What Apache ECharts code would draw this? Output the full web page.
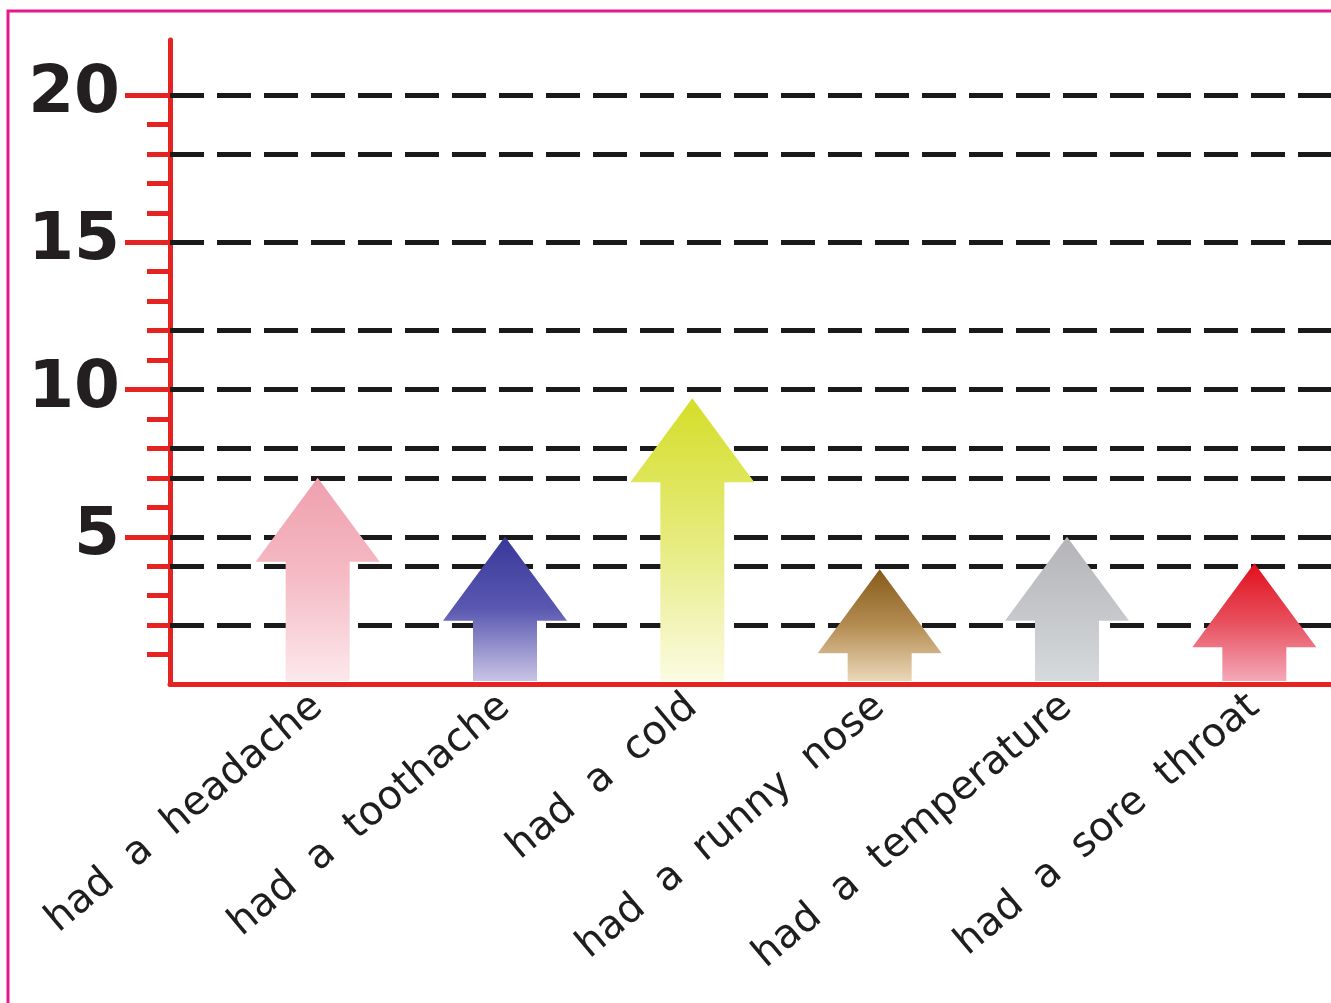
<!DOCTYPE html>
<html>
<head>
<meta charset="utf-8">
<title>had a ... chart</title>
<script src="https://cdn.jsdelivr.net/npm/echarts@6.0.0/dist/echarts.min.js"></script>
<style>
  html, body { margin: 0; padding: 0; background: #fff; }
  #chart { width: 1331px; height: 1003px; }
</style>
</head>
<body>
<div id="chart"></div>
<script>
// data
const categories = ['had a headache', 'had a toothache', 'had a cold', 'had a runny nose', 'had a temperature', 'had a sore throat']
const values = [7, 5, 9.7, 3.9, 5, 4.1]
const majorTicks = [5, 10, 15, 20]
const minorTicks = [1, 2, 3, 4, 6, 7, 8, 9, 11, 12, 13, 14, 16, 17, 18, 19]
const guideLines = [2, 4, 5, 7, 8, 10, 12, 15, 18, 20]

// arrow colours, top -> bottom
const arrowColors = [
  ['#ef9fad', '#f5bcc6', '#fce8ec'],
  ['#38389a', '#5a58b0', '#c8c4e6'],
  ['#d4de28', '#e6eb7c', '#fbfbe2'],
  ['#865a1a', '#b48c52', '#ead8b8'],
  ['#b4b4b8', '#c4c6c9', '#d6dadd'],
  ['#e10f1d', '#e8505e', '#f4a8b8']
]

const red = '#e52421'
const yMax = 21.87

const chart = echarts.init(document.getElementById('chart'))

// arrow drawn from the axis scale
function renderArrow(params, api) {
  const i = api.value(0)
  const tip = api.coord([i, api.value(1)])
  const base = api.coord([i, 0])
  const cx = tip[0]
  const headH = 84
  const headW = 62
  const shaftW = 32
  const neck = tip[1] + headH
  const bottom = base[1] - 3
  const c = arrowColors[params.dataIndex]
  return {
    type: 'polygon',
    shape: {
      points: [
        [cx, tip[1]],
        [cx + headW, neck],
        [cx + shaftW, neck],
        [cx + shaftW, bottom],
        [cx - shaftW, bottom],
        [cx - shaftW, neck],
        [cx - headW, neck]
      ]
    },
    style: {
      fill: new echarts.graphic.LinearGradient(0, 0, 0, 1, [
        { offset: 0, color: c[0] },
        { offset: 0.5, color: c[1] },
        { offset: 1, color: c[2] }
      ])
    }
  }
}

const option = {
  backgroundColor: '#ffffff',
  animation: false,
  graphic: [
    {
      type: 'rect',
      z: 100,
      shape: { x: 8, y: 11, width: 1400, height: 1100 },
      style: { fill: 'none', stroke: '#e6198c', lineWidth: 3 }
    }
  ],
  grid: [
    { left: 170, right: 0, top: 40, bottom: 319, outerBoundsMode: 'none' },
    { left: 224, width: 1124, top: 40, bottom: 319, outerBoundsMode: 'none' }
  ],
  xAxis: [
    {
      type: 'value',
      gridIndex: 0,
      min: 0,
      max: 1,
      axisLine: { show: true, lineStyle: { color: red, width: 5 } },
      axisTick: { show: false },
      axisLabel: { show: false },
      splitLine: { show: false }
    },
    {
      type: 'category',
      gridIndex: 1,
      data: categories,
      axisLine: { show: false },
      axisTick: { show: false },
      splitLine: { show: false },
      axisLabel: {
        interval: 0,
        rotate: 40,
        margin: 18,
        fontSize: 40,
        fontFamily: 'DejaVu Sans',
        color: '#1e1e1e',
        formatter: (s) => s.split(' ').join('  ')
      }
    }
  ],
  yAxis: [
    {
      type: 'value',
      gridIndex: 0,
      position: 'left',
      min: 0,
      max: yMax,
      axisLine: { show: true, lineStyle: { color: red, width: 5 } },
      axisTick: {
        show: true,
        customValues: majorTicks,
        length: 45,
        lineStyle: { color: red, width: 5 }
      },
      axisLabel: {
        customValues: majorTicks,
        margin: 50,
        fontSize: 66,
        fontWeight: 'bold',
        fontFamily: 'DejaVu Sans',
        color: '#231f20'
      },
      splitLine: { show: false }
    },
    {
      type: 'value',
      gridIndex: 0,
      position: 'left',
      offset: 0,
      min: 0,
      max: yMax,
      axisLine: { show: false },
      axisTick: {
        show: true,
        customValues: minorTicks,
        length: 23,
        lineStyle: { color: red, width: 5 }
      },
      axisLabel: { show: false },
      splitLine: { show: false }
    },
    {
      type: 'value',
      gridIndex: 1,
      min: 0,
      max: yMax,
      show: false
    }
  ],
  series: [
    {
      type: 'line',
      xAxisIndex: 0,
      yAxisIndex: 0,
      data: [],
      z: 2,
      markLine: {
        silent: true,
        symbol: 'none',
        animation: false,
        label: { show: false },
        lineStyle: { color: '#1a1a1a', width: 5, type: [34, 13] },
        data: guideLines.map((v) => ({ yAxis: v }))
      }
    },
    {
      type: 'custom',
      xAxisIndex: 1,
      yAxisIndex: 2,
      z: 5,
      clip: false,
      data: values.map((v, i) => [i, v]),
      renderItem: renderArrow
    }
  ]
}

chart.setOption(option)
</script>
</body>
</html>
